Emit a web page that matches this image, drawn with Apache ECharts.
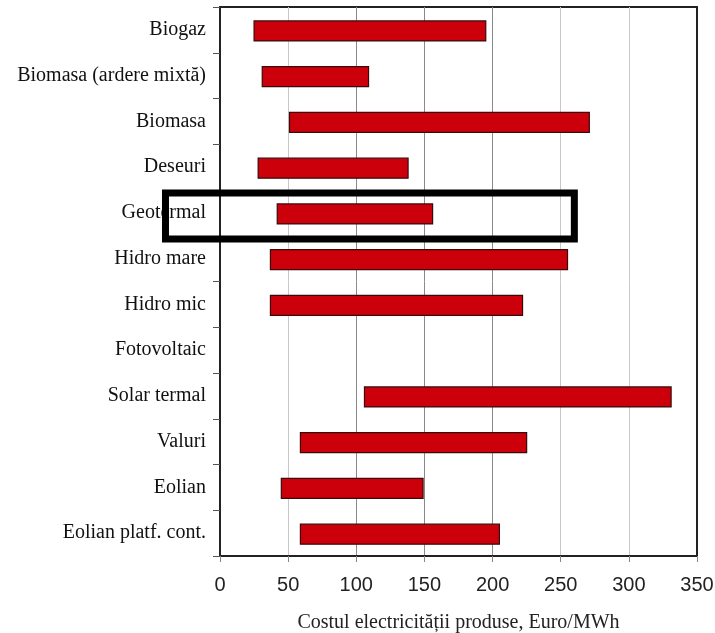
<!DOCTYPE html>
<html>
<head>
<meta charset="utf-8">
<script src="https://cdn.jsdelivr.net/npm/echarts@6/dist/echarts.min.js"></script>
<style>
  html, body { margin: 0; padding: 0; background: #fff; }
  #chart { width: 715px; height: 633px; }
</style>
</head>
<body>
<div id="chart"></div>
<script>
// Technologies, listed top to bottom
const categories = [
  'Biogaz',
  'Biomasa (ardere mixtă)',
  'Biomasa',
  'Deseuri',
  'Geotermal',
  'Hidro mare',
  'Hidro mic',
  'Fotovoltaic',
  'Solar termal',
  'Valuri',
  'Eolian',
  'Eolian platf. cont.'
];

// Lower and upper bound of the electricity cost range, Euro/MWh
// (Fotovoltaic lies beyond the scale, so it has no bar)
const costMin = [25, 31, 51, 28, 42, 37, 37, null, 106, 59, 45, 59];
const costMax = [195, 109, 271, 138, 156, 255, 222, null, 331, 225, 149, 205];

const xTicks = [0, 50, 100, 150, 200, 250, 300, 350];
const xTitle = 'Costul electricității produse, Euro/MWh';

// Highlighted row and the value span of the frame drawn around it
const highlightCategory = 'Geotermal';
const highlightFrom = -40;
const highlightTo = 260;

const chart = echarts.init(document.getElementById('chart'));

const rangeData = categories.map((c, i) => [costMin[i], costMax[i], i]);

chart.setOption({
  animation: false,
  backgroundColor: '#fff',
  grid: {
    left: 220, right: 18, top: 7, bottom: 77,
    outerBoundsMode: 'none',
    containLabel: false,
    show: true, borderColor: '#222', borderWidth: 2, backgroundColor: 'transparent'
  },
  xAxis: {
    type: 'value',
    min: xTicks[0],
    max: xTicks[xTicks.length - 1],
    interval: 50,
    name: xTitle,
    nameLocation: 'middle',
    nameGap: 57,
    nameTextStyle: { fontFamily: 'Liberation Serif', fontSize: 20, color: '#222' },
    axisLine: { show: true, lineStyle: { color: '#222', width: 2 } },
    axisTick: { show: true, length: 6, lineStyle: { color: '#888' } },
    axisLabel: { fontFamily: 'Liberation Sans', fontSize: 20, color: '#222', margin: 19 },
    splitLine: {
      show: true,
      lineStyle: {
        color: ['#ddd', '#c8c8c8', '#8a8a8a', '#8a8a8a', '#8a8a8a', '#c8c8c8', '#c8c8c8', '#222'],
        width: 1
      }
    }
  },
  yAxis: {
    type: 'category',
    data: categories,
    inverse: true,
    axisLine: { show: true, lineStyle: { color: '#222', width: 2 } },
    axisTick: { show: true, length: 7, lineStyle: { color: '#555' } },
    axisLabel: { fontFamily: 'Liberation Serif', fontSize: 20, color: '#111', margin: 14 },
    splitLine: { show: false }
  },
  series: [{
    type: 'custom',
    data: rangeData,
    encode: { x: [0, 1], y: 2 },
    renderItem: function (params, api) {
      const lo = api.value(0), hi = api.value(1);
      if (lo == null || hi == null || isNaN(lo) || isNaN(hi)) return null;
      const p0 = api.coord([lo, api.value(2)]);
      const p1 = api.coord([hi, api.value(2)]);
      const h = 20;
      return {
        type: 'rect',
        shape: { x: p0[0], y: p0[1] - h / 2 + 1, width: p1[0] - p0[0], height: h },
        style: { fill: '#cc000a', stroke: '#3a0a0a', lineWidth: 1.2 }
      };
    }
  }]
});

// Frame around the highlighted row
const idx = categories.indexOf(highlightCategory);
const a = chart.convertToPixel({ gridIndex: 0 }, [highlightFrom, idx]);
const b = chart.convertToPixel({ gridIndex: 0 }, [highlightTo, idx]);
const boxH = 46;
chart.setOption({
  graphic: [{
    type: 'rect',
    z: 100,
    shape: { x: a[0], y: a[1] - boxH / 2 + 3, width: b[0] - a[0], height: boxH },
    style: { fill: 'none', stroke: '#000', lineWidth: 7 }
  }]
});
</script>
</body>
</html>
